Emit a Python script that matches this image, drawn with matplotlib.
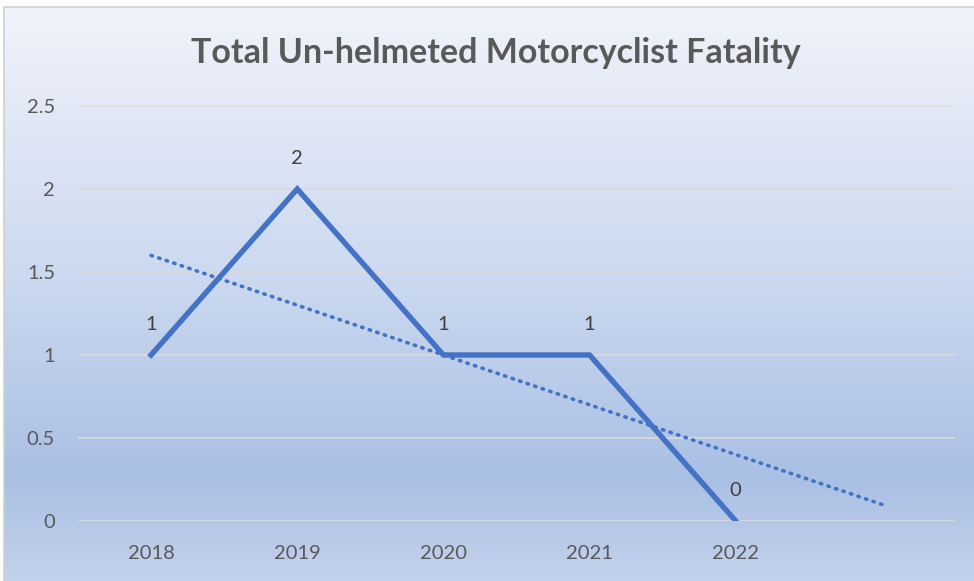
import numpy as np
import matplotlib
matplotlib.use("Agg")
import matplotlib.pyplot as plt
from matplotlib.colors import LinearSegmentedColormap

years = ["2018", "2019", "2020", "2021", "2022"]
values = [1, 2, 1, 1, 0]
title = "Total Un-helmeted Motorcyclist Fatality"
yticks = [0, 0.5, 1, 1.5, 2, 2.5]
ytick_labels = ["0", "0.5", "1", "1.5", "2", "2.5"]

W, H = 974, 581
fig = plt.figure(figsize=(W / 100, H / 100), dpi=100)
fig.patch.set_facecolor("white")

# gradient background region (chart area with border on left/top)
bx0, by1 = 4 / W, (H - 7) / H
bg = fig.add_axes([bx0, 0, 1 - bx0, by1])
cmap = LinearSegmentedColormap.from_list(
    "g", [(0.0, "#F0F3FA"), (0.5, "#C9D7EF"), (0.82, "#A9BFE4"), (1.0, "#C3D2EC")])
grad = np.linspace(0, 1, 256).reshape(-1, 1)
bg.imshow(grad, aspect="auto", cmap=cmap, extent=[0, 1, 1, 0])
bg.set_xlim(0, 1); bg.set_ylim(1, 0)
bg.set_xticks([]); bg.set_yticks([])
for s in ["right", "bottom"]:
    bg.spines[s].set_visible(False)
for s in ["left", "top"]:
    bg.spines[s].set_color("#D0D0D0")
    bg.spines[s].set_linewidth(1.2)

left, right = 78 / W, 955 / W
bottom, top = (H - 521) / H, (H - 106) / H
ax = fig.add_axes([left, bottom, right - left, top - bottom])
ax.patch.set_alpha(0)
for s in ax.spines.values():
    s.set_visible(False)

x = np.arange(1, len(values) + 1)
ax.set_xlim(0.5, 6.5)
ax.set_ylim(0, 2.5)
ax.set_yticks(yticks)
ax.set_yticklabels(ytick_labels)
ax.set_xticks(x)
ax.set_xticklabels(years)
ax.grid(axis="y", color="#D9D9D9", lw=1.3)
ax.set_axisbelow(True)
ax.tick_params(length=0, colors="#595959", labelsize=14.5)
ax.tick_params(axis="y", pad=16.5)
ax.tick_params(axis="x", pad=17)
for lab in ax.get_xticklabels() + ax.get_yticklabels():
    lab.set_fontfamily(["Lato", "DejaVu Sans"])

ax.plot(x, values, color="#4472C4", lw=3.9, solid_joinstyle="miter", zorder=3)

# linear trendline with forward forecast of one period
coef = np.polyfit(x, values, 1)
xt = np.array([1, len(values) + 1])
ax.plot(xt, np.polyval(coef, xt), color="#4472C4", lw=2.6,
        linestyle=(0, (0.4, 1.8)), dash_capstyle="round", zorder=2)

for xi, v in zip(x, values):
    ax.annotate(str(v), (xi, v), xytext=(0, 16), textcoords="offset points",
                ha="center", va="bottom", color="#404040", fontsize=14.5,
                family=["Lato", "DejaVu Sans"])

fig.text(0.509, (H - 53) / H, title, ha="center", va="center", fontsize=24.5,
         fontweight="bold", color="#595959", family=["Lato", "DejaVu Sans"])

fig.savefig("out.png", dpi=100)
